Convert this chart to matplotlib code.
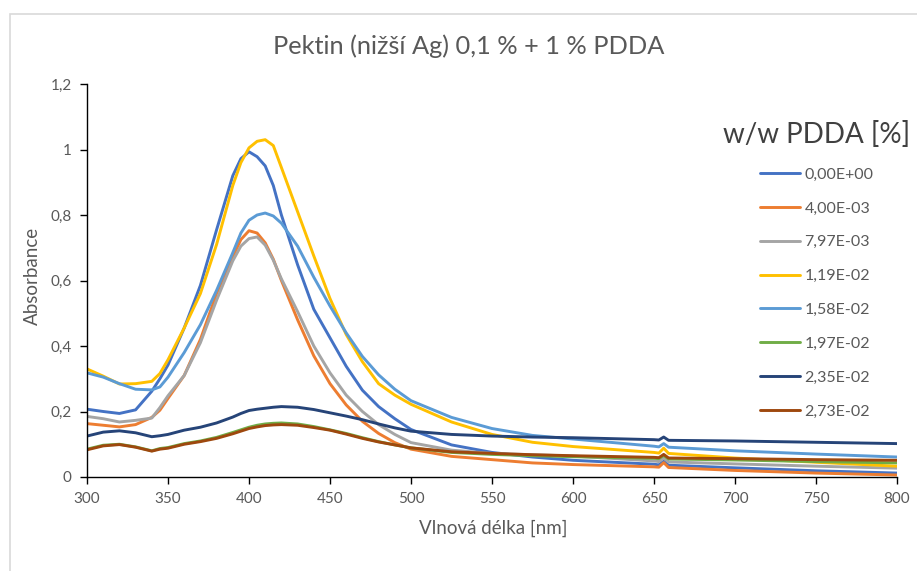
import matplotlib
matplotlib.use("Agg")
import matplotlib.pyplot as plt
from matplotlib.patches import Rectangle

plt.rcParams['font.family'] = ['Lato', 'DejaVu Sans']

# wavelength grid [nm]
wl = [300, 310, 320, 330, 340, 345, 350, 360, 370, 380, 390, 395, 400, 405, 410,
      415, 420, 430, 440, 450, 460, 470, 480, 490, 500, 525, 550, 575, 600,
      650, 653, 656, 659, 700, 750, 800]

# absorbance per sample
a_000 = [0.207, 0.200, 0.194, 0.205, 0.262, 0.300, 0.342, 0.455, 0.585, 0.755, 0.920, 0.972, 0.993, 0.978, 0.950,
         0.890, 0.800, 0.648, 0.512, 0.425, 0.338, 0.265, 0.215, 0.178, 0.145, 0.098, 0.075, 0.061, 0.051,
         0.039, 0.037, 0.048, 0.036, 0.028, 0.019, 0.012]
a_400 = [0.163, 0.158, 0.153, 0.160, 0.182, 0.204, 0.240, 0.310, 0.420, 0.560, 0.672, 0.725, 0.752, 0.745, 0.715,
         0.665, 0.600, 0.480, 0.370, 0.285, 0.220, 0.170, 0.133, 0.105, 0.085, 0.063, 0.053, 0.043, 0.038,
         0.031, 0.030, 0.044, 0.029, 0.020, 0.012, 0.006]
a_797 = [0.185, 0.178, 0.168, 0.173, 0.180, 0.212, 0.248, 0.310, 0.410, 0.540, 0.660, 0.705, 0.728, 0.733, 0.708,
         0.662, 0.605, 0.505, 0.400, 0.318, 0.250, 0.200, 0.160, 0.130, 0.105, 0.082, 0.072, 0.068, 0.064,
         0.049, 0.047, 0.058, 0.046, 0.040, 0.033, 0.027]
a_119 = [0.330, 0.308, 0.284, 0.285, 0.292, 0.316, 0.358, 0.455, 0.560, 0.710, 0.890, 0.960, 1.005, 1.025, 1.030,
         1.012, 0.945, 0.810, 0.675, 0.545, 0.435, 0.352, 0.285, 0.250, 0.222, 0.168, 0.130, 0.106, 0.093,
         0.075, 0.073, 0.088, 0.072, 0.058, 0.045, 0.033]
a_158 = [0.318, 0.305, 0.285, 0.268, 0.266, 0.275, 0.305, 0.380, 0.465, 0.570, 0.685, 0.745, 0.784, 0.800, 0.806,
         0.797, 0.775, 0.705, 0.610, 0.522, 0.440, 0.368, 0.312, 0.268, 0.233, 0.182, 0.148, 0.127, 0.116,
         0.094, 0.092, 0.102, 0.091, 0.080, 0.070, 0.061]
a_197 = [0.085, 0.097, 0.100, 0.092, 0.080, 0.087, 0.090, 0.102, 0.110, 0.121, 0.136, 0.144, 0.152, 0.158, 0.162,
         0.164, 0.165, 0.162, 0.154, 0.144, 0.133, 0.120, 0.108, 0.098, 0.089, 0.075, 0.069, 0.065, 0.062,
         0.057, 0.056, 0.066, 0.055, 0.052, 0.047, 0.043]
a_235 = [0.125, 0.137, 0.141, 0.135, 0.123, 0.126, 0.130, 0.143, 0.152, 0.165, 0.183, 0.194, 0.203, 0.207, 0.210,
         0.213, 0.215, 0.213, 0.206, 0.196, 0.186, 0.175, 0.162, 0.150, 0.140, 0.130, 0.125, 0.122, 0.120,
         0.114, 0.113, 0.122, 0.112, 0.110, 0.106, 0.102]
a_273 = [0.083, 0.095, 0.099, 0.091, 0.079, 0.085, 0.088, 0.100, 0.108, 0.118, 0.132, 0.140, 0.148, 0.153, 0.157,
         0.159, 0.160, 0.158, 0.151, 0.143, 0.131, 0.118, 0.107, 0.098, 0.089, 0.077, 0.072, 0.068, 0.065,
         0.060, 0.059, 0.069, 0.058, 0.056, 0.053, 0.051]

labels = ['0,00E+00', '4,00E-03', '7,97E-03', '1,19E-02',
          '1,58E-02', '1,97E-02', '2,35E-02', '2,73E-02']
colors = ['#4472C4', '#ED7D31', '#A5A5A5', '#FFC000',
          '#5B9BD5', '#70AD47', '#264478', '#9E480E']
series = [a_000, a_400, a_797, a_119, a_158, a_197, a_235, a_273]

x_ticks = [300, 350, 400, 450, 500, 550, 600, 650, 700, 750, 800]
y_ticks = [0, 0.2, 0.4, 0.6, 0.8, 1.0, 1.2]
y_ticklabels = ['0', '0,2', '0,4', '0,6', '0,8', '1', '1,2']

txt = '#595959'

fig = plt.figure(figsize=(9.17, 5.71), dpi=100)
ax = fig.add_axes([87 / 917, 1 - 477 / 571, 810 / 917, 393 / 571])

# chart area border
fig.patches.append(Rectangle((10 / 917, -0.1), 1.2, 1 - 14 / 571 + 0.1,
                             transform=fig.transFigure, fill=False,
                             edgecolor='#D9D9D9', linewidth=1.2))

for y, lab, c in zip(series, labels, colors):
    ax.plot(wl, y, color=c, linewidth=2.1, label=lab, solid_capstyle='round')

ax.set_xlim(300, 800)
ax.set_ylim(0, 1.2)
ax.set_xticks(x_ticks)
ax.set_yticks(y_ticks)
ax.set_yticklabels(y_ticklabels)

for side in ['top', 'right']:
    ax.spines[side].set_visible(False)
for side in ['left', 'bottom']:
    ax.spines[side].set_color('black')
    ax.spines[side].set_linewidth(1.0)
ax.tick_params(axis='both', direction='out', length=5, width=1.0,
               colors='black', labelcolor=txt, labelsize=11, pad=6)

fig.text(493 / 917, 1 - 528 / 571, 'Vlnová délka [nm]', ha='center', va='center',
         fontsize=13.5, color=txt)
fig.text(32 / 917, 1 - 276 / 571, 'Absorbance', ha='center', va='center',
         rotation=90, fontsize=13.5, color=txt)
fig.text(469 / 917, 1 - 46 / 571, 'Pektin (nižší Ag) 0,1 % + 1 % PDDA',
         ha='center', va='center', fontsize=18.3, color=txt)

leg = ax.legend(loc='upper left', bbox_to_anchor=(723 / 917, 1 - 121 / 571),
                bbox_transform=fig.transFigure, frameon=False,
                title='w/w PDDA [%]', title_fontsize=20, fontsize=11.5,
                labelspacing=1.23, handlelength=2.5, handletextpad=0.31,
                borderaxespad=0, borderpad=0)
leg.get_title().set_color('#404040')
for t in leg.get_texts():
    t.set_color(txt)
leg._legend_box.sep = 14

fig.savefig('out.png', dpi=100)
